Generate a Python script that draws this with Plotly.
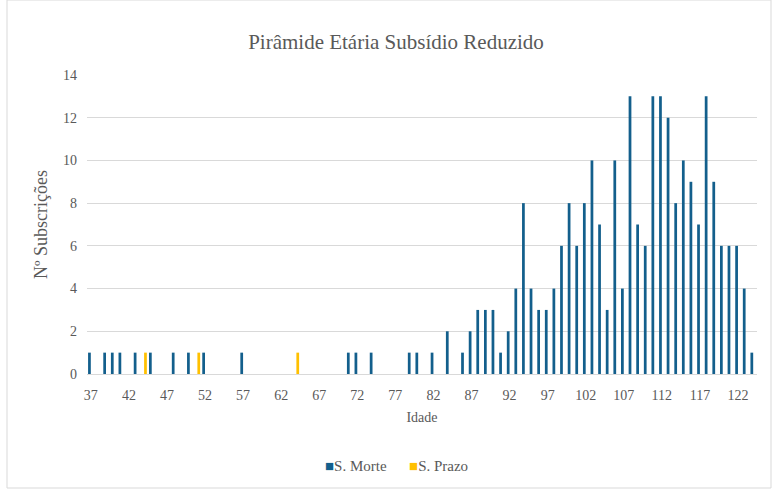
import plotly.graph_objects as go

ages = list(range(37, 125))

# S. Morte counts per age (37..124)
morte_by_age = {
    37: 1, 39: 1, 40: 1, 41: 1, 43: 1, 45: 1, 48: 1, 50: 1, 52: 1, 57: 1,
    71: 1, 72: 1, 74: 1, 79: 1, 80: 1, 82: 1, 84: 2, 86: 1, 87: 2, 88: 3,
    89: 3, 90: 3, 91: 1, 92: 2, 93: 4, 94: 8, 95: 4, 96: 3, 97: 3, 98: 4,
    99: 6, 100: 8, 101: 6, 102: 8, 103: 10, 104: 7, 105: 3, 106: 10, 107: 4,
    108: 13, 109: 7, 110: 6, 111: 13, 112: 13, 113: 12, 114: 8, 115: 10,
    116: 9, 117: 7, 118: 13, 119: 9, 120: 6, 121: 6, 122: 6, 123: 4, 124: 1,
}
prazo_by_age = {44: 1, 51: 1, 64: 1}

morte = [morte_by_age.get(a, 0) for a in ages]
prazo = [prazo_by_age.get(a, 0) for a in ages]

tick_ages = list(range(37, 125, 5))
y_ticks = list(range(0, 15, 2))

series_names = ["S. Morte", "S. Prazo"]
series_colors = ["#135f8c", "#ffc000"]

font_family = "Liberation Serif, DejaVu Serif, serif"
grey = "#595959"

W, H = 777, 490
ML, MR, MT, MB = 87, 20, 75, 116
PW, PH = W - ML - MR, H - MT - MB


def px_x(x):
    return (x - ML) / PW


def px_y(y):
    return (H - MB - y) / PH


fig = go.Figure()
fig.add_trace(go.Bar(x=ages, y=morte, name=series_names[0],
                     marker_color=series_colors[0], marker_line_width=0,
                     showlegend=False))
fig.add_trace(go.Bar(x=ages, y=prazo, name=series_names[1],
                     marker_color=series_colors[1], marker_line_width=0,
                     showlegend=False))

legend_text = (
    f"<span style='color:{series_colors[0]}'>■</span>{series_names[0]}"
    f"      <span style='color:{series_colors[1]}'>■</span>{series_names[1]}"
)

fig.update_layout(
    width=W, height=H,
    margin=dict(l=ML, r=MR, t=MT, b=MB),
    paper_bgcolor="white", plot_bgcolor="white",
    barmode="group", bargap=0.28, bargroupgap=0,
    font=dict(family=font_family, color=grey, size=14),
    title=dict(text="Pirâmide Etária Subsídio Reduzido", x=396 / W, xanchor="center",
               xref="container", y=1 - 42 / H, yanchor="middle", yref="container",
               font=dict(size=21, color=grey, family=font_family)),
    showlegend=False,
    xaxis=dict(range=[36.5, 124.5], tickvals=tick_ages,
               ticktext=[str(t) for t in tick_ages],
               showgrid=False, showline=True, linecolor="#d9d9d9", linewidth=1,
               ticks="", tickfont=dict(size=14, color=grey), automargin=False,
               ticklabelstandoff=8,
               title=dict(text="Idade", font=dict(size=14, color=grey), standoff=10),
               zeroline=False),
    yaxis=dict(range=[0, 14], tickvals=y_ticks, showgrid=True, automargin=False,
               gridcolor="#d9d9d9", gridwidth=1, zeroline=False, showline=False,
               ticks="", tickfont=dict(size=14, color=grey), ticklabelstandoff=9,
               title=dict(text="Nº Subscrições", font=dict(size=18, color=grey),
                          standoff=10)),
    annotations=[dict(text=legend_text, xref="paper", yref="paper",
                      x=px_x(396), y=px_y(466), xanchor="center", yanchor="middle",
                      showarrow=False, font=dict(size=15, color=grey))],
    shapes=[dict(type="rect", xref="paper", yref="paper",
                 x0=px_x(7), x1=px_x(771), y0=px_y(488), y1=px_y(0),
                 line=dict(color="#d9d9d9", width=1),
                 fillcolor="rgba(0,0,0,0)", layer="below")],
)

fig.write_html("out.html", config={"displayModeBar": False},
               post_script="document.body.style.margin='0px';"
                           "document.body.style.overflow='hidden';")
